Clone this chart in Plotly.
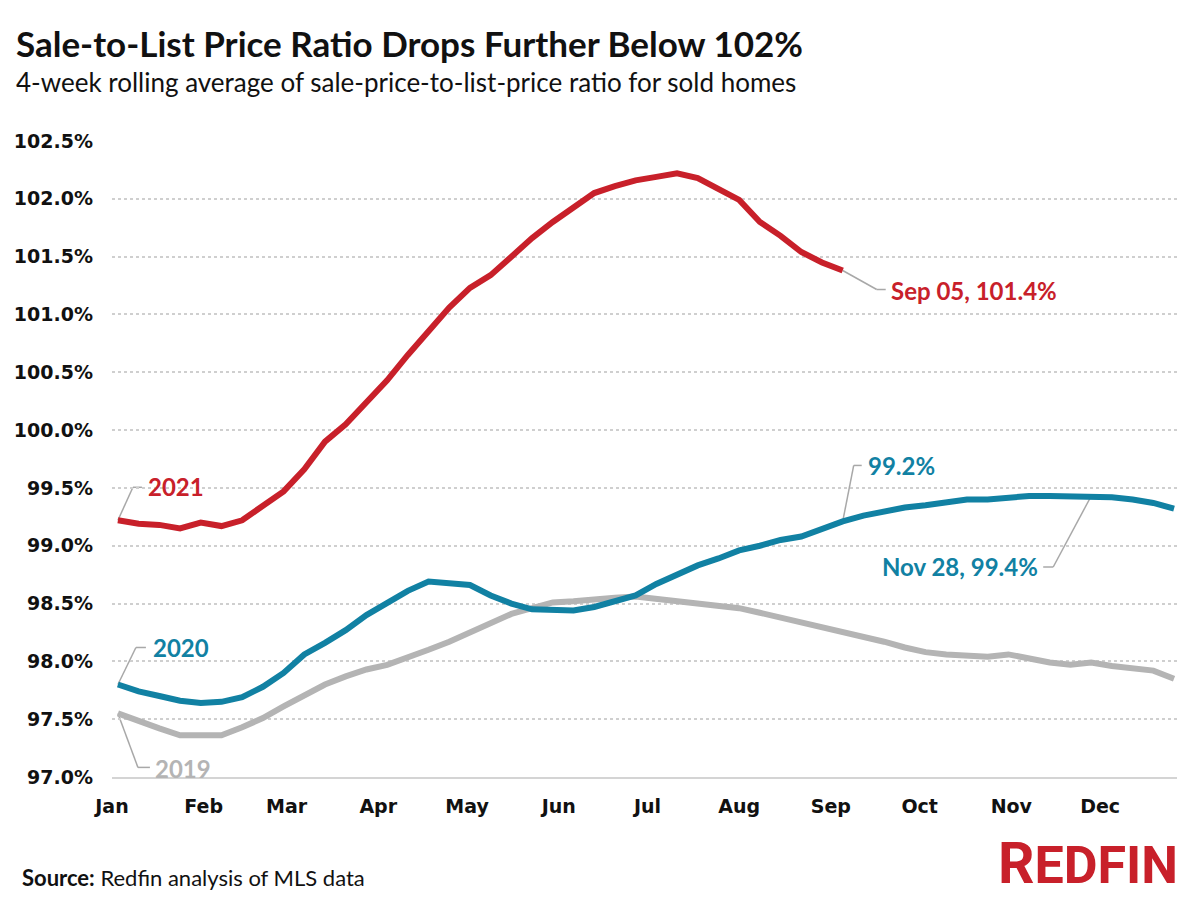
import plotly.graph_objects as go
import pandas as pd

# ---------------- data ----------------
weeks = pd.date_range("2021-01-03", periods=52, freq="7D")

ratio_2021 = [99.22, 99.19, 99.18, 99.15, 99.20, 99.17, 99.22, 99.34, 99.47, 99.66,
              99.90, 100.05, 100.24, 100.43, 100.65, 100.86, 101.06, 101.23, 101.34, 101.50,
              101.66, 101.80, 101.93, 102.05, 102.11, 102.16, 102.19, 102.22, 102.18, 102.09,
              101.99, 101.80, 101.68, 101.54, 101.45, 101.38]

ratio_2020 = [97.80, 97.74, 97.70, 97.66, 97.64, 97.65, 97.69, 97.78, 97.90, 98.06,
              98.16, 98.27, 98.40, 98.51, 98.61, 98.69, 98.68, 98.66, 98.57, 98.50,
              98.45, 98.44, 98.44, 98.47, 98.52, 98.57, 98.67, 98.75, 98.83, 98.89,
              98.96, 99.00, 99.05, 99.08, 99.15, 99.21, 99.26, 99.30, 99.33, 99.35,
              99.38, 99.40, 99.40, 99.42, 99.43, 99.43, 99.43, 99.43, 99.42, 99.40,
              99.37, 99.32]

ratio_2019 = [97.55, 97.48, 97.42, 97.36, 97.36, 97.36, 97.43, 97.51, 97.61, 97.71,
              97.80, 97.87, 97.93, 97.97, 98.03, 98.10, 98.17, 98.25, 98.33, 98.41,
              98.46, 98.51, 98.52, 98.54, 98.55, 98.56, 98.54, 98.53, 98.50, 98.48,
              98.46, 98.42, 98.38, 98.34, 98.30, 98.26, 98.22, 98.17, 98.12, 98.08,
              98.06, 98.05, 98.04, 98.06, 98.02, 97.99, 97.97, 97.99, 97.96, 97.94,
              97.92, 97.85]

month_ticks = pd.date_range("2021-01-01", periods=12, freq="MS")
month_labels = ["Jan", "Feb", "Mar", "Apr", "May", "Jun", "Jul", "Aug", "Sep", "Oct", "Nov", "Dec"]
y_ticks = [97.0, 97.5, 98.0, 98.5, 99.0, 99.5, 100.0, 100.5, 101.0, 101.5, 102.0, 102.5]

RED = "#c8202a"
TEAL = "#1181a3"
GRAY = "#b4b4b4"
LEADER = "#a8a8a8"

fig = go.Figure()
for vals, color, name in [(ratio_2019, GRAY, "2019"), (ratio_2020, TEAL, "2020"), (ratio_2021, RED, "2021")]:
    fig.add_trace(go.Scatter(x=weeks[:len(vals)], y=vals, mode="lines", name=name,
                             line=dict(color=color, width=6), hoverinfo="x+y"))

# ---------------- labels with elbow leaders ----------------
labels = [
    # text, series, index, color, diag(dx,dy), horiz end(dx,dy), text shift, anchor
    ("2021", ratio_2021, 0, RED, (15, 33), (24, 33), (28, 34), "left"),
    ("2020", ratio_2020, 0, TEAL, (18, 37), (28, 37), (33, 37), "left"),
    ("2019", ratio_2019, 0, GRAY, (20, -54), (32, -54), (35, -55), "left"),
    ("Sep 05, 101.4%", ratio_2021, 35, RED, (34, -19), (43, -19), (46, -20), "left"),
    ("99.2%", ratio_2020, 35, TEAL, (11, 56), (19, 56), (23, 56), "left"),
    ("Nov 28, 99.4%", ratio_2020, 47, TEAL, (-38, -71), (-48, -71), (-51, -70), "right"),
]
for text, series, idx, color, d1, d2, ts, anchor in labels:
    xa, ya = weeks[idx], series[idx]
    for (p0, p1) in [((0, 0), d1), (d1, d2)]:
        fig.add_shape(type="line", xref="x", yref="y", xsizemode="pixel", ysizemode="pixel",
                      xanchor=xa, yanchor=ya, x0=p0[0], y0=p0[1], x1=p1[0], y1=p1[1],
                      line=dict(color=LEADER, width=1.5), layer="below")
    fig.add_annotation(x=xa, y=ya, xref="x", yref="y", text=f"<b>{text}</b>", showarrow=False,
                       xanchor=anchor, yanchor="middle", xshift=ts[0], yshift=ts[1],
                       font=dict(family="Lato", size=24, color=color))

# ---------------- titles, source, logo (positions in page pixels) ----------------
page_texts = [
    (14, 43, "<b>Sale-to-List Price Ratio Drops Further Below 102%</b>", "left",
     dict(family="Lato", size=35, color="#111111")),
    (14, 82, "4-week rolling average of sale-price-to-list-price ratio for sold homes", "left",
     dict(family="Lato", size=26, color="#111111")),
    (20, 877, "<b>Source:</b> Redfin analysis of MLS data", "left",
     dict(family="Lato", size=22, color="#111111")),
    (1180, 863, "<b><span style='font-size:57px'>R</span>EDFIN</b>", "right",
     dict(family="Roboto", size=52, color=RED)),
]

# page offset of the plot div (body margin) and plot-area pixel box
OFF = 8
PL, PR, PT, PB = 112, 1177, 141, 777
L, T = PL - OFF, PT - OFF
R, B = 1200 - (PR - OFF), 900 - (PB - OFF)
W, H = 1200 - L - R, 900 - T - B

for px, py, text, anchor, font in page_texts:
    fig.add_annotation(x=(px - OFF - L) / W, y=(900 - (py - OFF) - B) / H,
                       xref="paper", yref="paper", text=text, showarrow=False,
                       xanchor=anchor, yanchor="middle", font=font)

fig.update_layout(
    width=1200, height=900,
    margin=dict(l=L, r=R, t=T, b=B, autoexpand=False),
    paper_bgcolor="white", plot_bgcolor="white",
    showlegend=False,
    xaxis=dict(range=["2021-01-01", "2021-12-27"], tickvals=month_ticks, ticktext=month_labels,
               showgrid=False, zeroline=False, showline=True, linecolor="#d4d4d4", linewidth=2,
               ticks="", tickfont=dict(family="DejaVu Sans", size=19, color="#111111", weight="bold"),
               ticklabelstandoff=11),
    yaxis=dict(range=[97.0, 102.5], tickvals=y_ticks, ticktext=[f"{v:.1f}%" for v in y_ticks],
               showgrid=True, gridcolor="#cfcfcf", griddash="dot", gridwidth=1.5,
               zeroline=False, showline=False, ticks="",
               tickfont=dict(family="DejaVu Sans", size=19, color="#111111", weight="bold"),
               ticklabelstandoff=18),
)

fig.write_html("out.html")
